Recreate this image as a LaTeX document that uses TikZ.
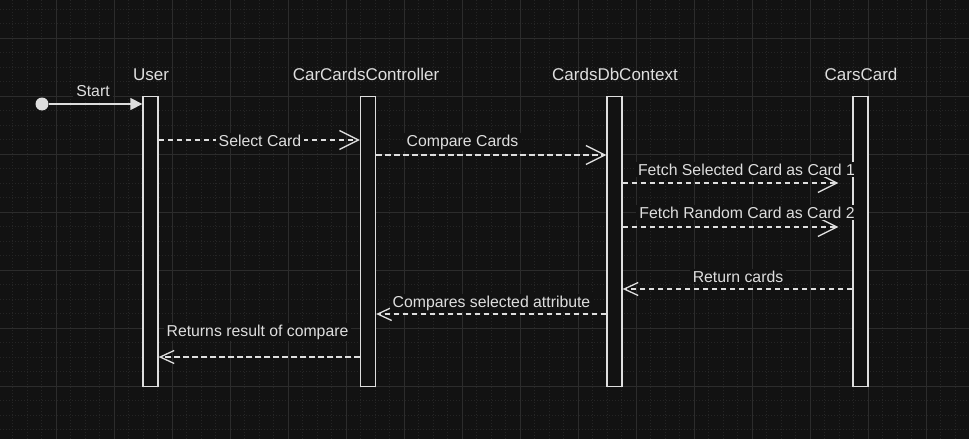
\documentclass[tikz,border=0pt]{standalone}
\usepackage{fontspec}
\setmainfont{Liberation Sans}
\usetikzlibrary{arrows.meta}
\definecolor{bg}{HTML}{121212}
\definecolor{fg}{HTML}{DEDEDE}
\definecolor{gridminor}{HTML}{252525}
\definecolor{gridmajor}{HTML}{2C2C2C}
\begin{document}
\begin{tikzpicture}[x=1pt,y=-1pt,
  bar/.style={draw=fg,fill=bg,line width=1.3pt,minimum width=15pt,minimum height=290pt,inner sep=0pt,anchor=north},
  head/.style={text=fg,font=\fontsize{17}{20}\selectfont,anchor=base},
  msg/.style={text=fg,font=\fontsize{15.8}{19}\selectfont,anchor=base,fill=bg,inner xsep=3pt,inner ysep=1.5pt},
  call/.style={draw=fg,line width=1.3pt,dash pattern=on 5.5pt off 3.5pt,-{Straight Barb[length=19pt,width=19pt]}},
  reply/.style={call,-{Straight Barb[length=14pt,width=13pt]}}]
\useasboundingbox (0,0) rectangle (969,439);
\clip (0,0) rectangle (969,439);
\fill[bg] (0,0) rectangle (969,439);
% grid
\foreach \i in {0,...,67} \draw[gridminor,line width=0.8pt,dash pattern=on 1pt off 2pt] ({-2+14.5*\i},0) -- ++(0,439);
\foreach \i in {0,...,32} \draw[gridminor,line width=0.8pt,dash pattern=on 1pt off 2pt] (0,{-20+14.5*\i}) -- ++(969,0);
\foreach \i in {0,...,17} \draw[gridmajor,line width=0.8pt] ({-2+58*\i},0) -- ++(0,439);
\foreach \i in {0,...,8} \draw[gridmajor,line width=0.8pt] (0,{-20+58*\i}) -- ++(969,0);
% lifelines
\node[bar] (user) at (150.5,96) {};
\node[bar] (ctrl) at (368,96) {};
\node[bar] (db) at (614.5,96) {};
\node[bar] (card) at (860.5,96) {};
\node[head] (userhd) at (151,80) {User};
\node[head] (ctrlhd) at (366,80) {CarCardsController};
\node[head] (dbhd) at (615,80) {CardsDbContext};
\node[head] (cardhd) at (861,80) {CarsCard};
% messages
\node[circle,fill=fg,minimum size=13pt,inner sep=0pt] (start) at (42,104) {};
\draw[fg,line width=1.3pt,-{Triangle[length=12pt,width=12pt]}] (start) -- (user.west |- start);
\coordinate (m1) at (0,140);
\coordinate (m2) at (0,155);
\coordinate (m3) at (0,183);
\coordinate (m4) at (0,227);
\coordinate (m5) at (0,289);
\coordinate (m6) at (0,314);
\coordinate (m7) at (0,357);
\draw[call] (user.east |- m1) -- (ctrl.west |- m1);
\draw[call] (ctrl.east |- m2) -- (db.west |- m2);
\draw[call,shorten >=14pt] (db.east |- m3) -- (card.west |- m3);
\draw[call,shorten >=14pt] (db.east |- m4) -- (card.west |- m4);
\draw[reply] (card.west |- m5) -- (db.east |- m5);
\draw[reply] (db.west |- m6) -- (ctrl.east |- m6);
\draw[reply] (ctrl.west |- m7) -- (user.east |- m7);
\node[msg] (lstart) at (93,96) {Start};
\node[msg] (lselect) at (260,146) {Select Card};
\node[msg] (lcompare) at (462.5,146) {Compare Cards};
\node[msg] (lfetch1) at (746.5,175) {Fetch Selected Card as Card 1};
\node[msg] (lfetch2) at (747,218) {Fetch Random Card as Card 2};
\node[msg] (lreturn) at (738,282) {Return cards};
\node[msg] (lattr) at (491.5,307) {Compares selected attribute};
\node[msg] (lresult) at (257.5,336) {Returns result of compare};
\end{tikzpicture}
\end{document}
